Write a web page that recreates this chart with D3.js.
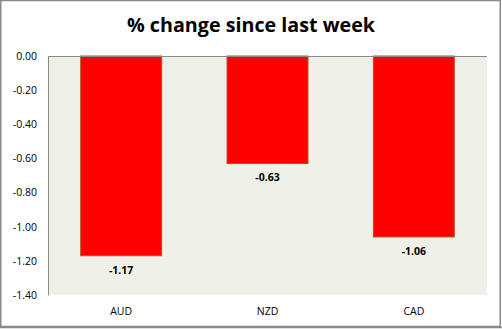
<!DOCTYPE html>
<html>
<head>
<meta charset="utf-8">
<script src="https://cdn.jsdelivr.net/npm/d3@7"></script>
<style>
  html, body { margin: 0; padding: 0; background: #fff; }
  svg { display: block; }
</style>
</head>
<body>
<svg id="chart" width="502" height="329"></svg>
<script>
// Weekly percentage change per currency
const categories = ["AUD", "NZD", "CAD"];
const values = [-1.17, -0.63, -1.06];
const tickValues = [0, -0.2, -0.4, -0.6, -0.8, -1.0, -1.2, -1.4];
const titleText = "% change since last week";

const svg = d3.select("#chart");
const W = 502, H = 329;
const plot = { left: 48, top: 56, right: 487, bottom: 295 };

// two decimals with a plain hyphen for negatives
const fmt = d3.formatLocale({ decimal: ".", thousands: ",", grouping: [3], currency: ["", ""], minus: "-" }).format(".2f");

// outer chart frame
svg.append("rect")
  .attr("x", 0.75).attr("y", 0.5)
  .attr("width", W - 2.5).attr("height", H - 3)
  .attr("fill", "#fff")
  .attr("stroke", "#8a8a8a")
  .attr("stroke-width", 1.5);
svg.append("line")
  .attr("x1", 0).attr("x2", W).attr("y1", H - 1.5).attr("y2", H - 1.5)
  .attr("stroke", "#8a8a8a").attr("stroke-width", 1.5);

const x = d3.scaleBand()
  .domain(categories)
  .range([plot.left, plot.right])
  .paddingInner(0.44)
  .paddingOuter(0.22);

const y = d3.scaleLinear()
  .domain([0, -1.4])
  .range([plot.top, plot.bottom]);

// plot background
svg.append("rect")
  .attr("x", plot.left).attr("y", plot.top)
  .attr("width", plot.right - plot.left)
  .attr("height", plot.bottom - plot.top)
  .attr("fill", "#eff0e8");

// bars
svg.append("g").selectAll("rect")
  .data(categories.map((c, i) => ({ c, v: values[i] })))
  .join("rect")
  .attr("x", d => x(d.c) + 0.5)
  .attr("y", y(0))
  .attr("width", x.bandwidth() - 1)
  .attr("height", d => y(d.v) - y(0))
  .attr("fill", "#ff0000")
  .attr("stroke", "#b4502a")
  .attr("stroke-width", 1);

// value labels
svg.append("g").selectAll("text")
  .data(categories.map((c, i) => ({ c, v: values[i] })))
  .join("text")
  .attr("x", d => x(d.c) + x.bandwidth() / 2)
  .attr("y", d => y(d.v) + 15)
  .attr("text-anchor", "middle")
  .attr("dominant-baseline", "middle")
  .attr("font-family", "'Open Sans', sans-serif")
  .attr("font-weight", "bold")
  .attr("font-size", 10.5)
  .attr("fill", "#000")
  .text(d => fmt(d.v));

// value axis
const yAxis = d3.axisLeft(y)
  .tickValues(tickValues)
  .tickSize(0)
  .tickPadding(11)
  .tickFormat(fmt);
const gy = svg.append("g")
  .attr("transform", `translate(${plot.left},0)`)
  .call(yAxis);
gy.select(".domain").attr("stroke", "#8a8a8a");
gy.selectAll("text")
  .attr("font-family", "'Open Sans', sans-serif")
  .attr("font-size", 10.5)
  .attr("fill", "#000");

// category axis along zero line
svg.append("line")
  .attr("x1", plot.left).attr("x2", plot.right)
  .attr("y1", y(0) + 0.5).attr("y2", y(0) + 0.5)
  .attr("stroke", "#8a8a8a");

// category labels below plot
const xAxis = d3.axisBottom(x).tickSize(0).tickPadding(13);
const gx = svg.append("g")
  .attr("transform", `translate(0,${plot.bottom})`)
  .call(xAxis);
gx.select(".domain").remove();
gx.selectAll("text")
  .attr("font-family", "'Open Sans', sans-serif")
  .attr("font-size", 10.5)
  .attr("fill", "#000");

// title
svg.append("text")
  .attr("x", W / 2)
  .attr("y", 32)
  .attr("text-anchor", "middle")
  .attr("font-family", "'Open Sans', sans-serif")
  .attr("font-weight", "bold")
  .attr("font-size", 19.5)
  .attr("textLength", 248)
  .attr("lengthAdjust", "spacingAndGlyphs")
  .attr("fill", "#000")
  .text(titleText);
</script>
</body>
</html>
